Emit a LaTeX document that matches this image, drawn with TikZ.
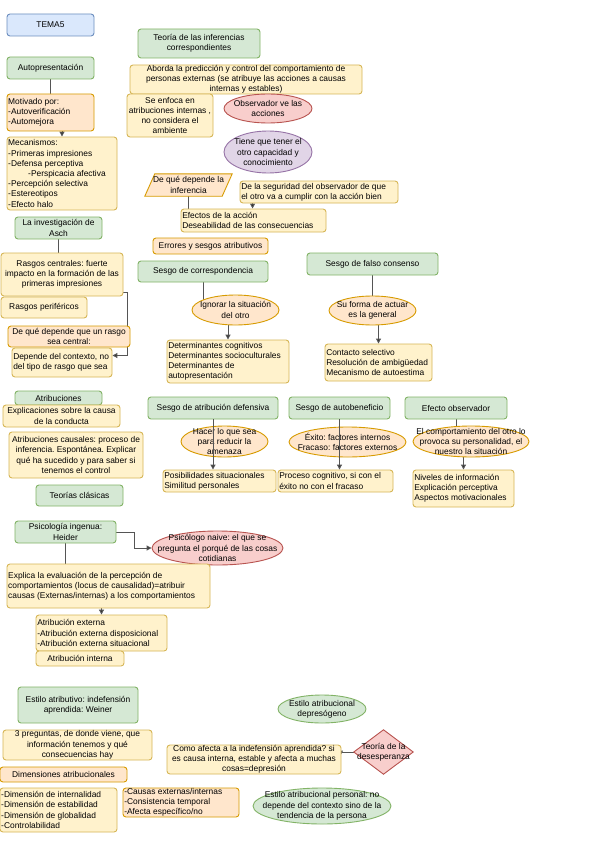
\documentclass[tikz,border=0pt]{standalone}
\usepackage{fontspec}
\setmainfont{Liberation Sans}
\usetikzlibrary{shapes.geometric,arrows.meta,calc,backgrounds}
\definecolor{gF}{HTML}{D5E8D4}\definecolor{gD}{HTML}{82B366}
\definecolor{bF}{HTML}{DAE8FC}\definecolor{bD}{HTML}{6C8EBF}
\definecolor{yF}{HTML}{FFF2CC}\definecolor{yD}{HTML}{D6B656}
\definecolor{oF}{HTML}{FFE6CC}\definecolor{oD}{HTML}{D79B00}
\definecolor{rF}{HTML}{F8CECC}\definecolor{rD}{HTML}{B85450}
\definecolor{pF}{HTML}{E1D5E7}\definecolor{pD}{HTML}{9673A6}
\definecolor{lnc}{HTML}{555555}
\frenchspacing
\newcommand\dfont{\fontsize{8.4}{10.2}\selectfont\frenchspacing}
\tikzset{
  shpbase/.style={line width=0.9pt, rounded corners=3pt},
  gbox/.style={shpbase, draw=gD, fill=gF},
  bbox/.style={shpbase, draw=bD, fill=bF},
  ybox/.style={shpbase, draw=yD, fill=yF},
  obox/.style={shpbase, draw=oD, fill=oF},
  gell/.style={ellipse, line width=0.9pt, draw=gD, fill=gF},
  oell/.style={ellipse, line width=0.9pt, draw=oD, fill=oF},
  rell/.style={ellipse, line width=0.9pt, draw=rD, fill=rF},
  pell/.style={ellipse, line width=0.9pt, draw=pD, fill=pF},
  txt/.style={inner sep=0pt, font=\dfont},
  ln/.style={draw=lnc, line width=1pt},
  arr/.style={ln, -{Triangle[length=5pt,width=5pt,fill=black!85]}},
}
\def\leftword{left}
% #1 name, #2 style, #3 x1, #4 y1, #5 x2, #6 y2, #7 align, #8 text
\newcommand\shp[8]{%
  \pgfmathsetmacro\bxw{#5-#3}\pgfmathsetmacro\bxh{#6-#4}%
  \pgfmathsetmacro\bxcx{(#3+#5)/2}\pgfmathsetmacro\bxcy{(#4+#6)/2}%
  \node[#2, minimum width=\bxw pt, minimum height=\bxh pt, inner sep=0pt] (#1) at (\bxcx,\bxcy) {};
  \def\bxal{#7}%
  \ifx\bxal\leftword
    \node[txt, align=left, anchor=west] at ($(#1.west)+(1.5,0)$) {#8};
  \else
    \node[txt, align=center] at (#1.center) {#8};
  \fi}
\begin{document}
\begin{tikzpicture}[x=1pt,y=-1pt]
\useasboundingbox (0,0) rectangle (599,848);

\shp{tema}{bbox}{7}{14}{94}{36}{center}{TEMA5}
\shp{tic}{gbox}{138}{29}{260}{58}{center}{Teoría de las inferencias\\correspondientes}
\shp{auto}{gbox}{7}{57}{94}{79}{center}{Autopresentación}
\shp{abo}{ybox}{130}{65}{362}{94}{center}{Aborda la predicción y control del comportamiento de\\personas externas (se atribuye las acciones a causas\\internas y estables)}
\shp{enf}{ybox}{127}{94}{213}{137}{center}{Se enfoca en\\atribuciones internas ,\\no considera el\\ambiente}
\shp{obs}{rell}{224}{94}{312}{123}{center}{Observador ve las\\acciones}
\shp{mot}{obox}{7}{94}{94}{131}{left}{Motivado por:\\-Autoverificación\\-Automejora}
\shp{mec}{ybox}{7}{137}{117}{210}{left}{Mecanismos:\\-Primeras impresiones\\-Defensa perceptiva\\\hspace*{20pt}-Perspicacia afectiva\\-Percepción selectiva\\-Estereotipos\\-Efecto halo}
\shp{tie}{pell}{224}{131}{312}{173}{center}{Tiene que tener el\\otro capacidad y\\conocimiento}

% parallelogram
\node[minimum width=87pt, minimum height=22pt, inner sep=0pt] (par) at (188.5,185) {};
\draw[line width=0.9pt, draw=oD, fill=oF] (par.south west) -- ($(par.north west)+(10,0)$) -- (par.north east) -- ($(par.south east)+(-10,0)$) -- cycle;
\node[txt, align=center] at (par.center) {De qué depende la\\inferencia};

\shp{seg}{ybox}{240}{181}{398}{203}{left}{De la seguridad del observador de que\\el otro va a cumplir con la acción bien}
\shp{ef}{ybox}{181}{209}{326}{232}{left}{Efectos de la acción\\Deseabilidad de las consecuencias}
\shp{err}{obox}{153}{238}{268}{254}{center}{Errores y sesgos atributivos}
\shp{asch}{gbox}{15}{217}{102}{239}{center}{La investigación de\\Asch}
\shp{rc}{ybox}{1}{253}{123}{296}{center}{Rasgos centrales: fuerte\\impacto en la formación de las\\primeras impresiones}
\shp{rp}{ybox}{1}{297}{87}{318}{center}{Rasgos periféricos}
\shp{dq}{obox}{8}{326}{130}{347}{center}{De qué depende que un rasgo\\sea central:}
\shp{dc}{ybox}{12}{348}{112}{377}{left}{Depende del contexto, no\\del tipo de rasgo que sea}
\shp{corr}{gbox}{138}{261}{268}{282}{center}{Sesgo de correspondencia}
\shp{fal}{gbox}{307}{253}{438}{275}{center}{Sesgo de falso consenso}
\shp{ign}{oell}{192}{295}{279}{325}{center}{Ignorar la situación\\del otro}
\shp{det}{ybox}{167}{340}{289}{383}{left}{Determinantes cognitivos\\Determinantes socioculturales\\Determinantes de\\autopresentación}
\shp{su}{oell}{329}{296}{416}{325}{center}{Su forma de actuar\\es la general}
\shp{con}{ybox}{325}{344}{432}{381}{left}{Contacto selectivo\\Resolución de ambigüedad\\Mecanismo de autoestima}
\shp{atr}{gbox}{15}{391}{102}{405}{center}{Atribuciones}
\shp{expc}{ybox}{3}{405}{120}{427}{center}{Explicaciones sobre la causa\\de la conducta}
\shp{ac}{ybox}{9}{432}{143}{478}{center}{Atribuciones causales: proceso de\\inferencia. Espontánea. Explicar\\qué ha sucedido y para saber si\\tenemos el control}
\shp{tc}{gbox}{36}{485}{123}{506}{center}{Teorías clásicas}
\shp{def}{gbox}{148}{397}{278}{419}{center}{Sesgo de atribución defensiva}
\shp{ab}{gbox}{289}{397}{390}{419}{center}{Sesgo de autobeneficio}
\shp{eo}{gbox}{405}{397}{507}{419}{center}{Efecto observador}
\shp{ham}{oell}{181}{426}{268}{457}{center}{Hacer lo que sea\\para reducir la\\amenaza}
\shp{pos}{ybox}{163}{470}{276}{492}{left}{Posibilidades situacionales\\Similitud personales}
\shp{exi}{oell}{289}{427}{406}{457}{center}{Éxito: factores internos\\Fracaso: factores externos}
\shp{pro}{ybox}{278}{470}{393}{492}{left}{Proceso cognitivo, si con el\\éxito no con el fracaso}
\shp{eel}{oell}{413}{426}{529}{457}{center}{El comportamiento del otro lo\\provoca su personalidad, el\\nuestro la situación}
\shp{niv}{ybox}{413}{470}{514}{507}{left}{Niveles de información\\Explicación perceptiva\\Aspectos motivacionales}
\shp{hei}{gbox}{15}{521}{116}{543}{center}{Psicología ingenua:\\Heider}
\shp{nai}{rell}{152}{531}{283}{565}{center}{Psicólogo naive: el que se\\pregunta el porqué de las cosas\\cotidianas}
\shp{exp}{ybox}{7}{564}{210}{608}{left}{Explica la evaluación de la percepción de\\comportamientos (locus de causalidad)=atribuir\\causas (Externas/internas) a los comportamientos}
\shp{ae}{ybox}{36}{615}{167}{651}{left}{Atribución externa\\-Atribución externa disposicional\\-Atribución externa situacional}
\shp{ai}{ybox}{36}{651}{124}{666}{center}{Atribución interna}
\shp{wei}{gbox}{18}{687}{138}{723}{center}{Estilo atributivo: indefensión\\aprendida: Weiner}
\shp{tp}{ybox}{3}{730}{152}{760}{center}{3 preguntas, de donde viene, que\\información tenemos y qué\\consecuencias hay}
\shp{dim}{obox}{0}{767}{127}{782}{center}{Dimensiones atribucionales}
\shp{dl}{ybox}{0}{788}{117}{832}{left}{-Dimensión de internalidad\\-Dimensión de estabilidad\\-Dimensión de globalidad\\-Controlabilidad}
\shp{cau}{obox}{123}{788}{239}{817}{left}{-Causas externas/internas\\-Consistencia temporal\\-Afecta específico/no}
\shp{dep}{gell}{278}{695}{366}{723}{center}{Estilo atribucional\\depresógeno}
\shp{com}{ybox}{167}{745}{341}{774}{center}{Como afecta a la indefensión aprendida? si\\es causa interna, estable y afecta a muchas\\cosas=depresión}

% diamond
\node[minimum width=59pt, minimum height=44pt, inner sep=0pt] (des) at (383.5,752) {};
\draw[line width=0.9pt, draw=rD, fill=rF] (des.west) -- (des.north) -- (des.east) -- (des.south) -- cycle;
\node[txt, align=center] at (des.center) {Teoría de la\\desesperanza};

\shp{per}{gell}{253}{788}{391}{824}{center}{Estilo atribucional personal: no\\depende del contexto sino de la\\tendencia de la persona}

% connectors over shapes
\draw[arr] (def.south) -- (def.south |- pos.north);
\draw[arr] (ab.south) -- (ab.south |- pro.north);

\begin{scope}[on background layer]
\fill[white] (0,0) rectangle (599,848);
\draw[ln] (auto.south) -- (mot.north);
\draw[arr] (mot.south -| mec.north) -- (mec.north);
\draw[ln] (asch.south) -- (asch.south |- rc.north);
\coordinate (rcx) at ($(rc.south east)+(0,-4)$);
\coordinate (dcx) at ($(dc.east)+(0,-7)$);
\draw[arr] (rcx) -- ++(4,0) |- (dcx);
\draw[ln] (par.south) -- (par.south |- ef.north);
\coordinate (segx) at ($(seg.south west)+(13,0)$);
\draw[arr] (segx) -- (segx |- ef.north);
\draw[ln] (corr.south) -- (corr.south |- ign.center);
\draw[arr] (ign.center -| det.north) -- (det.north);
\draw[ln] (fal.south) -- (su.center);
\draw[arr] (su.center -| con.north) -- (con.north);
\draw[ln] (eo.south) -- (eo.south |- eel.center);
\draw[arr] (eel.center -| niv.north) -- (niv.north);
\draw[arr] (hei.east) -- ++(18,0) |- (nai.west);
\draw[ln] (hei.south) -- (hei.south |- exp.north);
\draw[arr] (exp.south -| ae.north) -- (ae.north);
\coordinate (comx) at ($(com.north east)+(-1,11)$);
\draw[arr] (des.west) -| (comx);
\end{scope}
\end{tikzpicture}
\end{document}
